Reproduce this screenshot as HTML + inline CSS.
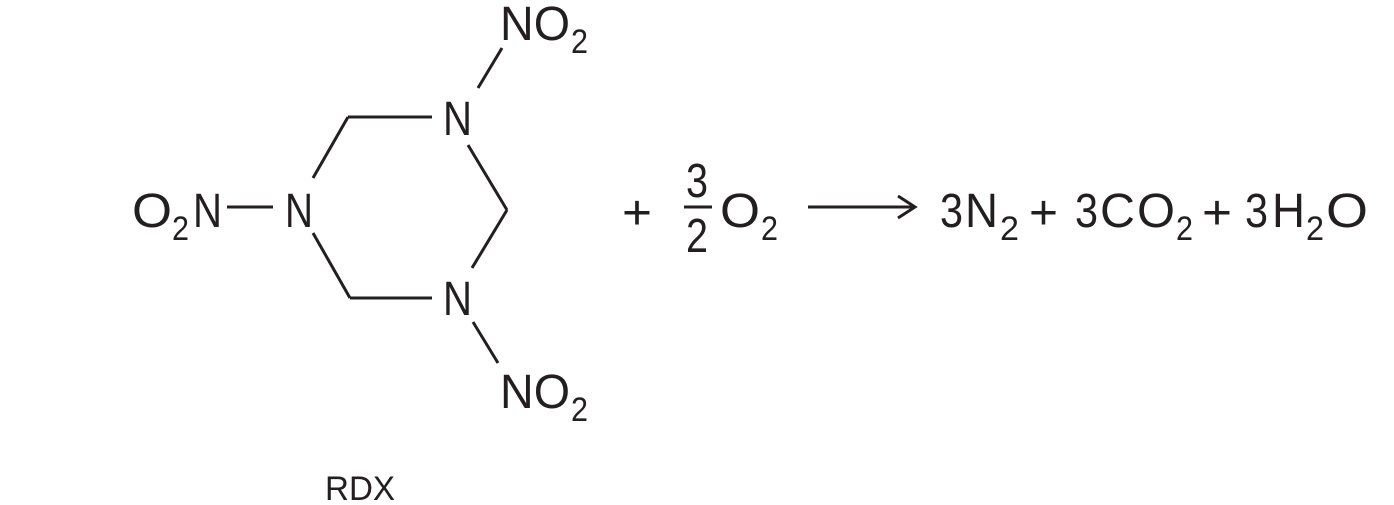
<!DOCTYPE html>
<html><head><meta charset="utf-8"><style>
html,body{margin:0;padding:0;background:#fff;}
svg{display:block;}
text{font-family:"Liberation Sans",sans-serif;fill:#231f20;}
.b{font-size:48px;}
.s{font-size:34px;}
</style></head><body>
<svg width="1394" height="505" viewBox="0 0 1394 505" xmlns="http://www.w3.org/2000/svg">
<g stroke="#231f20" stroke-width="3" fill="none" stroke-linecap="butt">
<line x1="478" y1="88" x2="502" y2="48"/>
<line x1="348" y1="117" x2="432" y2="117"/>
<line x1="348" y1="117" x2="313" y2="178"/>
<line x1="468" y1="145" x2="507" y2="210"/>
<line x1="507" y1="210" x2="472" y2="268"/>
<line x1="313" y1="233" x2="350" y2="298"/>
<line x1="350" y1="298" x2="432" y2="298"/>
<line x1="473" y1="322" x2="498" y2="363"/>
<line x1="227" y1="207" x2="273" y2="207"/>
<line x1="808" y1="207" x2="914" y2="207"/>
<path d="M898 196 L915 207 L898 218"/>
<line x1="684" y1="207" x2="712" y2="207"/>
</g>
<!-- top NO2 -->
<text class="b" x="500" y="40" textLength="70" lengthAdjust="spacingAndGlyphs">NO</text>
<text class="s" x="571" y="53" textLength="17" lengthAdjust="spacingAndGlyphs">2</text>
<!-- ring N -->
<text class="b" x="443" y="135" textLength="29" lengthAdjust="spacingAndGlyphs">N</text>
<text class="b" x="285" y="227" textLength="28" lengthAdjust="spacingAndGlyphs">N</text>
<text class="b" x="443" y="315" textLength="29" lengthAdjust="spacingAndGlyphs">N</text>
<!-- bottom NO2 -->
<text class="b" x="500" y="408" textLength="70" lengthAdjust="spacingAndGlyphs">NO</text>
<text class="s" x="571" y="421" textLength="17" lengthAdjust="spacingAndGlyphs">2</text>
<!-- left O2N -->
<text class="b" x="132" y="227" textLength="40" lengthAdjust="spacingAndGlyphs">O</text>
<text class="s" x="172" y="240" textLength="17" lengthAdjust="spacingAndGlyphs">2</text>
<text class="b" x="193" y="227" textLength="29" lengthAdjust="spacingAndGlyphs">N</text>
<!-- RDX -->
<text x="325" y="500" style="font-size:34px" textLength="70" lengthAdjust="spacingAndGlyphs">RDX</text>
<!-- + 3/2 O2 -->
<text class="b" x="622" y="229" textLength="30" lengthAdjust="spacingAndGlyphs">+</text>
<text class="b" x="686" y="197" textLength="22" lengthAdjust="spacingAndGlyphs">3</text>
<text class="b" x="686" y="252" textLength="22" lengthAdjust="spacingAndGlyphs">2</text>
<text class="b" x="720" y="227" textLength="40" lengthAdjust="spacingAndGlyphs">O</text>
<text class="s" x="761" y="240" textLength="17" lengthAdjust="spacingAndGlyphs">2</text>
<!-- products -->
<text class="b" x="940" y="227" textLength="23" lengthAdjust="spacingAndGlyphs">3</text>
<text class="b" x="965" y="227" textLength="33" lengthAdjust="spacingAndGlyphs">N</text>
<text class="s" x="1000" y="240" textLength="19" lengthAdjust="spacingAndGlyphs">2</text>
<text class="b" x="1029" y="229" textLength="29" lengthAdjust="spacingAndGlyphs">+</text>
<text class="b" x="1075" y="227" textLength="23" lengthAdjust="spacingAndGlyphs">3</text>
<text class="b" x="1100" y="227" textLength="35" lengthAdjust="spacingAndGlyphs">C</text>
<text class="b" x="1137" y="227" textLength="38" lengthAdjust="spacingAndGlyphs">O</text>
<text class="s" x="1176" y="240" textLength="17" lengthAdjust="spacingAndGlyphs">2</text>
<text class="b" x="1202" y="229" textLength="30" lengthAdjust="spacingAndGlyphs">+</text>
<text class="b" x="1245" y="227" textLength="23" lengthAdjust="spacingAndGlyphs">3</text>
<text class="b" x="1272" y="227" textLength="33" lengthAdjust="spacingAndGlyphs">H</text>
<text class="s" x="1306" y="240" textLength="18" lengthAdjust="spacingAndGlyphs">2</text>
<text class="b" x="1326" y="227" textLength="42" lengthAdjust="spacingAndGlyphs">O</text>
</svg>
</body></html>
